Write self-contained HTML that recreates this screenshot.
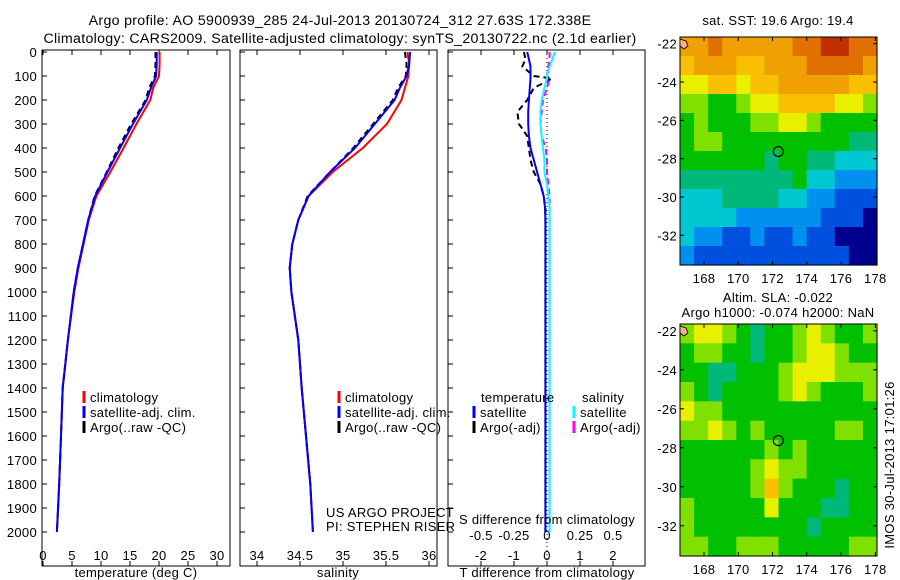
<!DOCTYPE html>
<html><head><meta charset="utf-8">
<style>
html,body{margin:0;padding:0;background:#fff;}
svg{display:block;font-family:"Liberation Sans",sans-serif;}
text{font-size:13px;letter-spacing:0.3px;fill:#000;}
text.ttl{font-size:14.2px;letter-spacing:0.3px;}
</style></head>
<body>
<svg id="fig" width="900" height="580" viewBox="0 0 900 580">
<text class="ttl" x="340" y="25" text-anchor="middle">Argo profile: AO 5900939_285 24-Jul-2013 20130724_312 27.63S 172.338E</text>
<text class="ttl" x="340" y="43" text-anchor="middle">Climatology: CARS2009. Satellite-adjusted climatology: synTS_20130722.nc (2.1d earlier)</text>
<g id="plots"></g>
</svg>
<script>
// ---------- data ----------
var depthTicks=[0,100,200,300,400,500,600,700,800,900,1000,1100,1200,1300,1400,1500,1600,1700,1800,1900,2000];
var tempTicks=[0,5,10,15,20,25,30];
var salTicks=[34,34.5,35,35.5,36];
var tdiffTicks=[-2,-1,0,1,2];
var sdiffTicks=[-0.5,-0.25,0,0.25,0.5];
var sdiffTickLabels=["-0.5","-0.25","0","0.25","0.5"];
var profDepth=[0,50,100,150,200,300,400,500,600,700,800,900,1000,1200,1400,1600,1800,2000];
var tempClim=[20.1,20.1,20.0,19.0,18.5,16.1,13.9,11.6,9.2,7.9,7.0,6.1,5.4,4.3,3.4,3.1,2.8,2.4];
var tempSat=[19.6,19.6,19.5,18.6,17.9,15.5,13.3,11.1,9.0,7.8,6.9,6.0,5.3,4.3,3.4,3.1,2.8,2.4];
var tempArgo=[19.4,19.4,19.3,18.3,17.7,15.2,13.0,11.0,8.9,7.8,6.9,6.0,5.3,4.3,3.4,3.1,2.8,2.4];
var salClim=[35.75,35.77,35.76,35.72,35.68,35.51,35.23,34.88,34.6,34.48,34.41,34.38,34.4,34.48,34.52,34.57,34.62,34.65];
var salSat=[35.78,35.77,35.74,35.66,35.6,35.37,35.14,34.85,34.6,34.48,34.41,34.38,34.4,34.48,34.52,34.57,34.62,34.65];
var salArgo=[35.72,35.74,35.73,35.64,35.58,35.35,35.12,34.85,34.59,34.48,34.41,34.38,34.4,34.48,34.52,34.57,34.62,34.65];
var diffDepth=[0,30,60,100,110,150,200,250,300,350,400,450,500,550,600,650,700,1000,1500,2000];
var tDiffSat=[-0.6,-0.55,-0.5,-0.5,-0.5,-0.52,-0.55,-0.57,-0.57,-0.55,-0.5,-0.4,-0.3,-0.2,-0.1,-0.06,-0.05,-0.05,-0.05,-0.05];
var tDiffArgo=[-0.7,-0.65,-0.75,-0.4,0.15,-0.4,-0.6,-0.9,-0.85,-0.6,-0.55,-0.5,-0.4,-0.2,-0.1,-0.05,-0.05,-0.05,-0.05,-0.05];
var sDiffSat=[0.06,0.04,0.02,0.0,0.0,-0.02,-0.04,-0.05,-0.05,-0.04,-0.03,-0.02,-0.02,0.0,0.01,0.02,0.02,0.02,0.02,0.02];
var sDiffArgo=[0.02,0.02,0.01,0.0,0.02,0.0,-0.03,-0.04,-0.05,-0.04,-0.01,0.0,0.0,0.01,0.02,0.02,0.02,0.02,0.02,0.02];
var lonTicks=[168,170,172,174,176,178];
var latTicks=[22,24,26,28,30,32];
var palette=["#00008f","#0050e0","#0090f0","#00c8d0","#00b878","#00c000","#80e000","#e8f000","#f8c000","#f0a000","#e07000","#c03000"];
var sstGrid=[
[9,9,10,9,9,9,9,9,10,10,11,11,10,10],
[8,9,9,9,8,8,9,9,9,10,10,10,10,9],
[7,7,8,8,7,8,8,9,9,9,9,9,8,8],
[6,6,5,5,6,7,7,8,8,8,8,7,7,6],
[5,6,5,5,5,6,6,7,7,6,5,5,5,5],
[5,6,6,5,5,5,5,5,5,5,5,5,4,4],
[5,5,5,5,5,5,4,5,5,4,4,3,3,3],
[4,4,4,4,4,4,4,4,5,3,3,2,2,2],
[3,3,3,4,4,4,4,3,3,2,2,1,1,1],
[3,3,3,3,2,2,2,2,2,2,1,1,1,0],
[3,2,2,1,1,2,1,1,2,1,1,0,0,0],
[2,1,1,1,1,1,1,1,1,1,1,1,0,0]];
var slaGrid=[
[6,7,7,6,5,4,5,5,6,7,6,5,5,6],
[5,6,6,5,5,4,5,5,6,7,7,6,5,5],
[5,5,4,4,5,5,5,6,7,7,7,6,6,6],
[6,5,4,5,5,5,5,6,7,6,5,5,5,6],
[7,6,6,5,5,5,5,5,5,5,5,5,5,5],
[6,6,7,6,5,6,5,5,5,5,5,6,6,5],
[5,5,5,5,5,5,6,5,6,5,5,5,5,5],
[5,5,5,5,5,6,7,6,6,5,5,5,5,5],
[5,5,5,5,5,6,8,6,5,5,5,4,5,5],
[6,5,5,5,5,5,7,5,5,5,4,4,5,5],
[6,5,5,5,5,5,5,5,5,4,5,5,5,5],
[6,6,5,5,6,6,6,5,5,5,5,5,6,6]];
var argoLon=172.338, argoLat=27.63;

// ---------- helpers ----------
var NS="http://www.w3.org/2000/svg";
var root=document.getElementById('plots');
function mk(tag,attrs,parent){var e=document.createElementNS(NS,tag);for(var k in attrs)e.setAttribute(k,attrs[k]);(parent||root).appendChild(e);return e;}
function txt(x,y,s,anchor,parent){var t=mk('text',{x:x,y:y,'text-anchor':anchor||'start'},parent);t.textContent=s;return t;}
var yTop=52,yPx=0.24,boxTop=50,boxBot=566;
function yD(d){return yTop+d*yPx;}
function xT(v){return 43+v*5.8;}
function xS(v){return 257+(v-34)*86;}
function xTd(v){return 547+v*33;}
function xSd(v){return 547+v*132;}
function line(xs,fx,ys,color,dash,name){
  var p=xs.map(function(v,i){return fx(v).toFixed(1)+','+yD(ys[i]).toFixed(1);}).join(' ');
  var e=mk('polyline',{points:p,fill:'none',stroke:color,'stroke-width':2,'stroke-dasharray':dash||'none'});
  
  
}
function frame(x0,x1,name){
  var r=mk('rect',{x:x0,y:boxTop,width:x1-x0,height:boxBot-boxTop,fill:'none',stroke:'#000','stroke-width':1});
  
  
}
function xTicks(ticks,fx,labels,ylab,name){
  ticks.forEach(function(t,i){
    var x=fx(t);
    mk('line',{x1:x,x2:x,y1:boxBot,y2:boxBot-5,stroke:'#000'});
    mk('line',{x1:x,x2:x,y1:boxTop,y2:boxTop+5,stroke:'#000'});
    var l=txt(x,ylab,labels?labels[i]:String(t),'middle');
    
    
  });
}
function legend(x,y,items){
  items.forEach(function(it,i){
    mk('line',{x1:x,x2:x,y1:y+i*15-11,y2:y+i*15+1,stroke:it[1],'stroke-width':3});
    var l=txt(x+6,y+i*15,it[0]);
    
    
  });
}

// ---------- panel 1: temperature ----------
frame(42,230,'temperature-axes');
depthTicks.forEach(function(d){
  var y=yD(d);
  mk('line',{x1:42,x2:47,y1:y,y2:y,stroke:'#000'});
  mk('line',{x1:240,x2:245,y1:y,y2:y,stroke:'#000'});
  mk('line',{x1:448,x2:453,y1:y,y2:y,stroke:'#000'});
  var l=txt(37,y+5,String(d),'end');
  
  
});
xTicks(tempTicks,xT,null,560,'temperature-tick-label');
line(tempClim,xT,profDepth,'#ff0000',null,'temperature-climatology-line');
line(tempArgo,xT,profDepth,'#000000','6,4','temperature-argo-line');
line(tempSat,xT,profDepth,'#0000ff',null,'temperature-satellite-line');
legend(84,402,[['climatology','#ff0000'],['satellite-adj. clim.','#0000ff'],['Argo(..raw -QC)','#000']]);
var a1=txt(136,577,'temperature (deg C)','middle');



// ---------- panel 2: salinity ----------
frame(240,437,'salinity-axes');
xTicks(salTicks,xS,null,560,'salinity-tick-label');
line(salClim,xS,profDepth,'#ff0000',null,'salinity-climatology-line');
line(salArgo,xS,profDepth,'#000000','6,4','salinity-argo-line');
line(salSat,xS,profDepth,'#0000ff',null,'salinity-satellite-line');
legend(339,402,[['climatology','#ff0000'],['satellite-adj. clim.','#0000ff'],['Argo(..raw -QC)','#000']]);
var a2=txt(338,577,'salinity','middle');


var p1=txt(326,517,'US ARGO PROJECT');


var p2=txt(326,531,'PI: STEPHEN RISER');



// ---------- panel 3: differences ----------
frame(448,645,'difference-axes');
xTicks(tdiffTicks,xTd,null,560,'t-diff-tick-label');
sdiffTicks.forEach(function(t,i){
  var l=txt(xSd(t),540,sdiffTickLabels[i],'middle');
  
  
});
var zl=mk('line',{x1:xTd(0),x2:xTd(0),y1:boxTop,y2:boxBot,stroke:'#000','stroke-dasharray':'1,3'});


line(tDiffArgo,xTd,diffDepth,'#000000','6,4','t-diff-argo-line');
line(sDiffArgo,xSd,diffDepth,'#ff00ff','6,4','s-diff-argo-line');
line(tDiffSat,xTd,diffDepth,'#0000ff',null,'t-diff-satellite-line');
line(sDiffSat,xSd,diffDepth,'#00ffff',null,'s-diff-satellite-line');
var lt=txt(481,402,'temperature');
var ls=txt(582,402,'salinity');
legend(474,417,[['satellite','#0000ff'],['Argo(-adj)','#000']]);
legend(574,417,[['satellite','#00ffff'],['Argo(-adj)','#ff00ff']]);
var st=txt(547,524,'S difference from climatology','middle');


var tt=txt(547,577,'T difference from climatology','middle');



// ---------- maps ----------
function map(top,bot,grid,name){
  var x0=680,x1=877,lon0=166.6,lon1=178.1,lat0=21.65,lat1=33.55;
  function mx(l){return x0+(l-lon0)/(lon1-lon0)*(x1-x0);}
  function my(l){return top+(l-lat0)/(lat1-lat0)*(bot-top);}
  var g=mk('g',{});
  
  
  var rows=grid.length,cols=grid[0].length,cw=(x1-x0)/cols,ch=(bot-top)/rows;
  grid.forEach(function(r,i){r.forEach(function(v,j){
    var c=mk('rect',{x:(x0+j*cw).toFixed(2),y:(top+i*ch).toFixed(2),width:(cw+0.6).toFixed(2),height:(ch+0.6).toFixed(2),fill:palette[v]},g);
    
    
  });});
  mk('rect',{x:x0,y:top,width:x1-x0,height:bot-top,fill:'none',stroke:'#000'},g);
  lonTicks.forEach(function(l){var x=mx(l);
    mk('line',{x1:x,x2:x,y1:bot,y2:bot-4,stroke:'#000'},g);
    mk('line',{x1:x,x2:x,y1:top,y2:top+4,stroke:'#000'},g);
    var t=txt(x,bot+18,String(l),'middle',g);
    
    });
  latTicks.forEach(function(l){var y=my(l);
    mk('line',{x1:x0,x2:x0+4,y1:y,y2:y,stroke:'#000'},g);
    mk('line',{x1:x1,x2:x1-4,y1:y,y2:y,stroke:'#000'},g);
    var t=txt(x0-3,y+5,'-'+l,'end',g);
    
    });
  var c=mk('circle',{cx:mx(argoLon),cy:my(argoLat),r:5,fill:'none',stroke:'#000','stroke-width':1.2},g);
  
  
  mk('path',{d:'M'+x0+','+(top+2)+' l6,2 l2,5 l-4,3 l-4,-3z',fill:'#f4b080',stroke:'#000','stroke-width':0.8},g);
}
map(37,265,sstGrid,'sst-map');
map(324,556,slaGrid,'sla-map');
var m1=txt(778,25,'sat. SST: 19.6 Argo: 19.4','middle');
var m2=txt(778,302,'Altim. SLA: -0.022','middle');
var m3=txt(778,317,'Argo h1000: -0.074 h2000: NaN','middle');
var st2=txt(0,0,'IMOS 30-Jul-2013 17:01:26','middle');
st2.setAttribute('transform','translate(894,465) rotate(-90)');


</script>
</body></html>
